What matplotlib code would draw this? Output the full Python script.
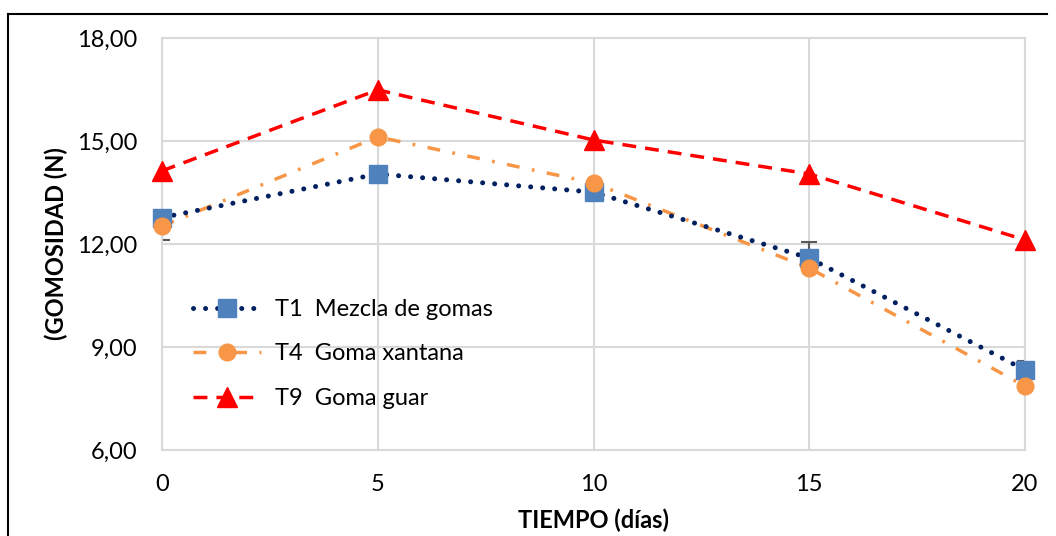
import matplotlib
matplotlib.use("Agg")
import matplotlib.pyplot as plt
from matplotlib.lines import Line2D

plt.rcParams['font.family'] = ['Lato', 'DejaVu Sans']

dias = [0, 5, 10, 15, 20]
t1 = [12.77, 14.04, 13.51, 11.59, 8.33]
t4 = [12.52, 15.12, 13.78, 11.30, 7.86]
t9 = [14.13, 16.49, 15.03, 14.04, 12.12]
t1_err_low = [0.65, 0.0, 0.0, 0.0, 0.0]
t1_err_up = [0.0, 0.0, 0.0, 0.47, 0.26]
labels = ["T1  Mezcla de gomas", "T4  Goma xantana", "T9  Goma guar"]
yticks = [6, 9, 12, 15, 18]
ytick_labels = ["6,00", "9,00", "12,00", "15,00", "18,00"]

fig = plt.figure(figsize=(10.56, 5.36), dpi=100)
ax = fig.add_axes([162/1056, 86/536, (1025-162)/1056, (450-38)/536])

# outer frame (left & top visible)
fig.add_artist(Line2D([8/1056, 8/1056], [0, 1-14/536], transform=fig.transFigure, color='black', lw=1.5))
fig.add_artist(Line2D([8/1056, 1047/1056], [1-14/536, 1-14/536], transform=fig.transFigure, color='black', lw=1.5))

c1, c1m = '#002060', '#4f81bd'
c4 = '#f79646'
c9 = '#ff0000'

ax.errorbar(dias, t1, yerr=[t1_err_low, t1_err_up], fmt='none', ecolor='#595959',
            elinewidth=1.5, capsize=6, capthick=1.5, zorder=2)

ax.plot(dias, t9, color=c9, lw=2.5, linestyle=(0, (4.0, 2.6)), zorder=3)
ax.plot(dias, t4, color=c4, lw=2.5, linestyle=(0, (3.7, 3.6, 0.8, 3.6)), zorder=3)
ax.plot(dias, t1, color=c1, lw=3.6, linestyle=(0, (0.01, 2.4)), dash_capstyle='round', zorder=3)

ax.plot(dias, t9, linestyle='none', marker='^', ms=15, color=c9, zorder=5, clip_on=False)
ax.plot(dias, t1, linestyle='none', marker='s', ms=13, color=c1m, zorder=4, clip_on=False)
ax.plot(dias, t4, linestyle='none', marker='o', ms=12, color=c4, zorder=6, clip_on=False)

ax.set_xlim(0, 20)
ax.set_ylim(6, 18)
ax.set_xticks(dias)
ax.set_xticklabels([str(d) for d in dias])
ax.set_yticks(yticks)
ax.set_yticklabels(ytick_labels)
ax.grid(True, color='#d9d9d9', lw=1.5)
ax.set_axisbelow(True)
for s in ax.spines.values():
    s.set_color('#d9d9d9')
    s.set_linewidth(1.5)
ax.tick_params(length=0, labelsize=17, pad=18)
ax.tick_params(axis='x', pad=17)

ax.set_xlabel("TIEMPO (días)", fontsize=17, fontweight='bold', labelpad=10)
ax.set_ylabel("(GOMOSIDAD (N)", fontsize=17, fontweight='bold', labelpad=6)

h1 = Line2D([], [], color=c1, lw=3.6, linestyle=(0, (0.01, 2.4)), dash_capstyle='round',
            marker='s', ms=13, markerfacecolor=c1m, markeredgecolor=c1m)
h4 = Line2D([], [], color=c4, lw=2.5, linestyle=(0, (3.7, 3.6, 0.8, 3.6)),
            marker='o', ms=12, markerfacecolor=c4, markeredgecolor=c4)
h9 = Line2D([], [], color=c9, lw=2.5, linestyle=(0, (4.0, 2.6)),
            marker='^', ms=15, markerfacecolor=c9, markeredgecolor=c9)
fig.legend([h1, h4, h9], labels, loc='center left', bbox_to_anchor=(181/1056, 1-354/536),
           frameon=False, fontsize=17, handlelength=2.9, handletextpad=0.6, labelspacing=1.0,
           borderpad=0)

fig.savefig("out.png", dpi=100)
